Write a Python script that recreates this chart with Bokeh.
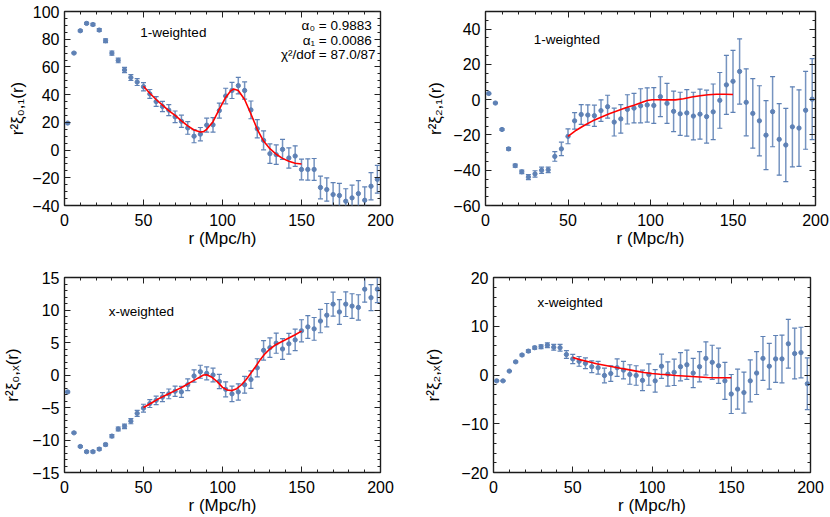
from bokeh.plotting import figure
from bokeh.layouts import column, row
from bokeh.models import Range1d, FixedTicker, LinearAxis, ColumnDataSource
from bokeh.core.properties import value
from bokeh.embed import file_html
from bokeh.resources import INLINE

# ---------------- data ----------------
r = [2, 6, 10, 14, 18, 22, 26, 30, 34, 38, 42, 46, 50, 54, 58, 62, 66, 70, 74, 78,
     82, 86, 90, 94, 98, 102, 106, 110, 114, 118, 122, 126, 130, 134, 138, 142, 146, 150, 154, 158,
     162, 166, 170, 174, 178, 182, 186, 190, 194, 198]

xi01 = [19.5, 70, 86.1, 91.4, 90.6, 86.6, 78.9, 70, 64.7, 57.8, 52.3, 49.1, 45.7, 40.5, 35, 31.5, 28.8, 24, 20.8, 16,
        10, 11.5, 18, 18.2, 28.5, 39, 43, 46.5, 43, 29, 15.4, 7, -2.6, -3.3, 0.5, -5.7, -4.3, -14, -14, -14,
        -27, -28.5, -32.1, -32.8, -36.9, -34.5, -31.4, -36.2, -26.1, -21.1]
err01 = [0.4, 0.5, 0.6, 0.7, 0.8, 1.0, 1.3, 1.5, 1.7, 1.9, 2.1, 2.5, 3.0, 3.2, 3.5, 3.7, 4.0, 4.2, 4.4, 4.6,
         4.7, 4.8, 5.0, 5.2, 5.4, 5.6, 5.8, 6.0, 6.2, 6.4, 6.6, 6.8, 7.0, 7.0, 7.2, 7.3, 7.4, 7.5, 7.7, 7.9,
         8.2, 8.4, 8.6, 8.8, 9.0, 9.2, 9.4, 9.6, 9.8, 10.0]
fit01_r = [50, 54, 58, 62, 66, 70, 74, 78, 82, 86, 88, 90, 94, 98, 102, 105, 107, 110, 114, 118, 122, 126, 130, 134, 138, 142, 146, 150]
fit01 = [46, 41, 36.5, 32.5, 28.5, 25, 21, 17.5, 14.5, 13, 13.3, 15, 20.5, 29.5, 38, 42.5, 44, 43, 36.5, 26, 15, 6.5, 1, -3, -6, -8, -9.5, -10]

xi21 = [3.5, -1.9, -16.9, -27.9, -37.4, -40.9, -43.9, -42.1, -40, -39.8, -32.2, -27.9, -20.8, -12, -8.4, -8.7, -9.1, -6.2, -4, -12.7,
        -10.9, -5.5, -4.8, -3.5, -3, -3.3, 1.7, -2.1, -6.6, -8, -7.5, -9.3, -8.2, -9.6, -6.9, -0.4, 8.4, 10.4, 16, -1.5,
        -7.8, -12, -20.1, -6.8, -22.5, -25.7, -15.4, -16.1, -6, 0.3]
err21 = [0.3, 0.4, 0.5, 0.7, 0.9, 1.0, 1.4, 1.8, 1.8, 1.6, 2.7, 3.8, 4.2, 4.7, 5.6, 5.8, 6.0, 6.1, 6.5, 7.9,
         8.1, 8.3, 8.4, 9.7, 9.7, 10.1, 11.3, 11.3, 11.5, 12.2, 13.2, 13.5, 14.2, 15.0, 15.8, 15.8, 16.7, 17.6, 18.5, 19.0,
         19.7, 19.9, 19.6, 19.9, 20.3, 20.8, 22.7, 21.7, 22.1, 23.0]
fit21_r = [50, 55, 60, 65, 70, 75, 80, 85, 90, 95, 98, 101, 105, 110, 115, 120, 125, 130, 135, 140, 145, 150]
fit21 = [-20.8, -17.3, -14.5, -12, -10, -8, -6.3, -4.6, -3.1, -1.5, -0.5, 0, 0, -0.1, -0.1, 0.5, 1.5, 2.2, 2.8, 3.1, 3.1, 2.9]

xi0x = [-2.6, -8.9, -11, -11.8, -11.8, -11.4, -10.7, -9.4, -8.3, -7.9, -7.1, -5.9, -5.1, -4.4, -3.9, -3.4, -2.9, -2.5, -2.6, -1.5,
        -0.15, 0.5, 0.25, 0, -1, -2.2, -2.9, -2.6, -1.5, -0.7, 1.1, 3.8, 4.2, 4.9, 4.0, 4.8, 5.4, 6.8, 7.4, 7.1,
        8.3, 9.2, 10.9, 9.7, 10.9, 10.6, 10.4, 13.2, 11.9, 13.2]
err0x = [0.1, 0.1, 0.12, 0.14, 0.16, 0.18, 0.2, 0.25, 0.3, 0.35, 0.4, 0.45, 0.6, 0.6, 0.65, 0.7, 0.75, 0.8, 0.85, 0.9,
         0.95, 1.0, 1.0, 1.05, 1.1, 1.15, 1.2, 1.25, 1.3, 1.35, 1.4, 1.5, 1.5, 1.55, 1.6, 1.6, 1.65, 1.7, 1.75, 1.75,
         1.8, 1.8, 1.85, 1.9, 1.9, 1.9, 1.95, 2.0, 2.0, 2.05]
fit0x_r = [50, 55, 60, 65, 70, 75, 80, 85, 88, 90, 93, 97, 100, 103, 106, 109, 112, 115, 118, 121, 124, 127, 130, 134, 138, 142, 146, 150]
fit0x = [-5, -4.3, -3.6, -3, -2.4, -1.8, -1.1, -0.4, 0, 0.05, -0.3, -1.1, -1.9, -2.3, -2.4, -2.1, -1.5, -0.7, 0.3, 1.3, 2.4, 3.3, 4.0, 4.7, 5.2, 5.7, 6.2, 6.75]

xi2x = [-1.2, -1.2, 0.8, 2.7, 4.1, 4.9, 5.6, 5.8, 6.1, 5.7, 5.6, 4.2, 3.3, 2.8, 2.4, 1.7, 1.5, -0.1, 0.3, 1.5,
        1.0, 0.1, -0.1, -1.1, 0.1, -1.2, 1.8, 0.2, 0.55, 1.7, 2.1, 0.4, 1.7, 3.4, 2.6, 1.9, -1.2, -3.9, -2.9, -3.6,
        -1.2, 0.4, 3.4, 1.8, 3.3, 3.3, 6.4, 4.4, 4.6, -1.8]
err2x = [0.1, 0.1, 0.12, 0.15, 0.2, 0.25, 0.3, 0.4, 0.5, 0.6, 0.7, 0.8, 0.95, 1.0, 1.1, 1.2, 1.3, 1.5, 1.6, 1.8,
         1.8, 2.0, 2.0, 2.1, 2.2, 2.3, 2.5, 2.5, 2.7, 2.9, 3.0, 3.0, 3.1, 3.4, 3.5, 3.6, 3.8, 4.0, 4.1, 4.2,
         4.3, 4.4, 4.5, 4.7, 4.8, 4.9, 5.0, 5.2, 5.2, 5.3]
fit2x_r = [50, 55, 60, 65, 70, 75, 80, 85, 90, 95, 100, 105, 110, 115, 120, 125, 130, 135, 140, 145, 150]
fit2x = [3.6, 3.1, 2.7, 2.3, 2.0, 1.7, 1.4, 1.1, 0.8, 0.5, 0.3, 0.15, 0.05, -0.1, -0.2, -0.3, -0.4, -0.5, -0.55, -0.55, -0.55]

x_ticks = [0, 50, 100, 150, 200]
x_tick_labels = ["0", "50", "100", "150", "200"]

y01_ticks = [-40, -20, 0, 20, 40, 60, 80, 100]
y01_labels = ["\u221240", "\u221220", "0", "20", "40", "60", "80", "100"]
y21_ticks = [-60, -40, -20, 0, 20, 40]
y21_labels = ["\u221260", "\u221240", "\u221220", "0", "20", "40"]
y0x_ticks = [-15, -10, -5, 0, 5, 10, 15]
y0x_labels = ["\u221215", "\u221210", "\u22125", "0", "5", "10", "15"]
y2x_ticks = [-20, -10, 0, 10, 20]
y2x_labels = ["\u221220", "\u221210", "0", "10", "20"]

# ---------------- styling ----------------
BLUE = "#5E81B5"
FONT = "Liberation Sans"
TICK_FS = "16px"
TICK_COL = "#222222"


def style_main_axis(ax, ticks, minor, labels, standoff):
    ax.ticker = FixedTicker(ticks=ticks, minor_ticks=minor)
    ax.axis_line_color = None
    ax.major_tick_in = 6
    ax.major_tick_out = 0
    ax.minor_tick_in = 3
    ax.minor_tick_out = 0
    ax.major_tick_line_color = TICK_COL
    ax.minor_tick_line_color = TICK_COL
    ax.major_label_overrides = {t: l for t, l in zip(ticks, labels)}
    ax.major_label_text_font = FONT
    ax.major_label_text_font_size = TICK_FS
    ax.major_label_text_color = "black"
    ax.major_label_standoff = standoff
    ax.axis_label_text_font = FONT
    ax.axis_label_text_font_size = "17px"
    ax.axis_label_text_font_style = "normal"
    ax.axis_label_text_color = "black"


def tick_only_axis(positions, length):
    # an axis with no labelled ticks: only short marks drawn inward
    ax = LinearAxis(ticker=FixedTicker(ticks=[], minor_ticks=positions))
    ax.axis_line_color = None
    ax.major_tick_line_color = None
    ax.minor_tick_in = length
    ax.minor_tick_out = 0
    ax.minor_tick_line_color = TICK_COL
    ax.major_label_standoff = 0
    return ax


def panel(yv, ye, fr, fv, yrange, yt, ytl, ystep, ylabel, w, h, mbl, mbr, mbt, mbb, lab_stand):
    p = figure(width=w, height=h, x_range=Range1d(0, 200), y_range=Range1d(*yrange),
               output_backend="svg", toolbar_location=None,
               min_border_left=mbl, min_border_right=mbr, min_border_top=mbt, min_border_bottom=mbb)
    p.xgrid.visible = False
    p.ygrid.visible = False
    p.outline_line_color = "#1a1a1a"
    p.outline_line_width = 1.4
    p.outline_line_alpha = 1.0
    x_minor = list(range(0, 201, 10))
    y_minor = list(range(yrange[0], yrange[1] + 1, ystep))

    style_main_axis(p.xaxis[0], x_ticks, x_minor, x_tick_labels, 8)
    style_main_axis(p.yaxis[0], yt, y_minor, ytl, 5)
    p.xaxis.axis_label = "r (Mpc/h)"
    p.yaxis.axis_label = ylabel
    p.xaxis.axis_label_standoff = 0
    p.yaxis.axis_label_standoff = lab_stand

    p.add_layout(tick_only_axis(x_ticks, 6), "above")
    p.add_layout(tick_only_axis(x_minor, 3), "above")
    p.add_layout(tick_only_axis(yt, 6), "right")
    p.add_layout(tick_only_axis(y_minor, 3), "right")

    lo = [a - b for a, b in zip(yv, ye)]
    hi = [a + b for a, b in zip(yv, ye)]
    src = ColumnDataSource(dict(r=r, y=yv, lo=lo, hi=hi))
    p.segment(x0="r", y0="lo", x1="r", y1="hi", source=src, line_color=BLUE, line_width=1.5, line_alpha=0.85)
    p.scatter("r", "lo", source=src, marker="dash", size=5, line_color=BLUE, line_width=1.2)
    p.scatter("r", "hi", source=src, marker="dash", size=5, line_color=BLUE, line_width=1.2)
    p.scatter("r", "y", source=src, marker="circle", size=4.3, fill_color=BLUE, line_color=BLUE)
    p.line(fr, fv, line_color="#ff0000", line_width=1.6)
    return p


def note(p, x, y, txt, align="left", size="13.5px"):
    p.text(x=[x], y=[y], text=[txt], text_font=value(FONT), text_font_size=size,
           text_align=align, text_baseline="middle", text_color="black")


p1 = panel(xi01, err01, fit01_r, fit01, (-40, 100), y01_ticks, y01_labels, 5,
           "r\u00b2\u03be\u2080,\u2081(r)", 420, 250, 64, 40, 11, 45, 2)
p2 = panel(xi21, err21, fit21_r, fit21, (-60, 50), y21_ticks, y21_labels, 5,
           "r\u00b2\u03be\u2082,\u2081(r)", 409, 250, 65, 14, 2, 45, 5)
p3 = panel(xi0x, err0x, fit0x_r, fit0x, (-15, 15), y0x_ticks, y0x_labels, 1,
           "r\u00b2\u03be\u2080,\u2093(r)", 420, 267, 64, 40, 25, 45, 7)
p4 = panel(xi2x, err2x, fit2x_r, fit2x, (-20, 20), y2x_ticks, y2x_labels, 2,
           "r\u00b2\u03be\u2082,\u2093(r)", 409, 267, 73, 19, 27, 45, 15)

note(p1, 48, 84.5, "1-weighted")
note(p1, 196.8, 89.7, "\u03b1\u2080 =  0.9883", align="right")
note(p1, 196.8, 79.4, "\u03b1\u2081 =  0.0086", align="right")
note(p1, 196.8, 68.8, "\u03c7\u00b2/dof = 87.0/87", align="right")
note(p2, 29.3, 34.2, "1-weighted")
note(p3, 28, 9.8, "x-weighted")
note(p4, 27.7, 14.9, "x-weighted")

layout = column(row(p1, p2), row(p3, p4))
open("out.html", "w").write(file_html(layout, INLINE))
